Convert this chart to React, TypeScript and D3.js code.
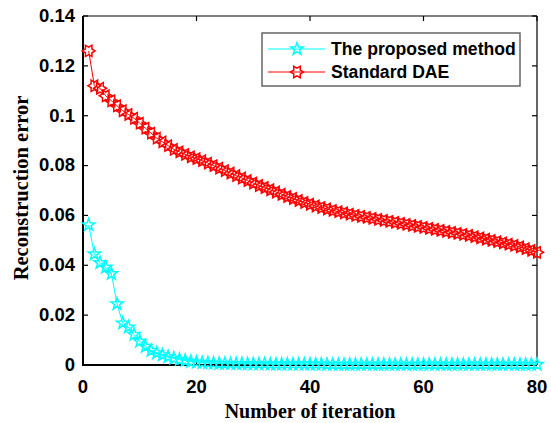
import React, { useRef, useEffect } from 'react'
import * as d3 from 'd3'

// iteration numbers (x) and the two error curves
const iterations = d3.range(1, 81)
const proposed = [
  0.0562, 0.0445, 0.041, 0.0392, 0.0366, 0.0245, 0.0168, 0.0152, 0.0122, 0.0095,
  0.0074, 0.0058, 0.0048, 0.004, 0.0033, 0.0027, 0.0022, 0.0018, 0.0014, 0.0011,
  0.0009, 0.0008, 0.0007, 0.0006, 0.0006, 0.0005, 0.0005, 0.0005, 0.0004, 0.0004,
  0.0004, 0.0004, 0.0003, 0.0003, 0.0003, 0.0003, 0.0003, 0.0003, 0.0003, 0.0003,
  0.0003, 0.0003, 0.0002, 0.0002, 0.0002, 0.0002, 0.0002, 0.0002, 0.0002, 0.0002,
  0.0002, 0.0002, 0.0002, 0.0002, 0.0002, 0.0002, 0.0002, 0.0002, 0.0002, 0.0002,
  0.0002, 0.0002, 0.0002, 0.0002, 0.0002, 0.0002, 0.0002, 0.0002, 0.0002, 0.0002,
  0.0002, 0.0002, 0.0002, 0.0002, 0.0002, 0.0002, 0.0002, 0.0002, 0.0002, 0.0002,
]
const standard = [
  0.126, 0.112, 0.111, 0.108, 0.106, 0.104, 0.102, 0.1005, 0.099, 0.097,
  0.095, 0.093, 0.091, 0.0895, 0.088, 0.0865, 0.0855, 0.0845, 0.0835, 0.0828,
  0.082, 0.081, 0.08, 0.079, 0.078, 0.077, 0.076, 0.075, 0.074, 0.073,
  0.072, 0.0712, 0.0703, 0.0694, 0.0685, 0.0676, 0.0668, 0.066, 0.0652, 0.0645,
  0.0638, 0.0632, 0.0626, 0.062, 0.0615, 0.061, 0.0605, 0.06, 0.0596, 0.0592,
  0.0588, 0.0584, 0.058, 0.0576, 0.0572, 0.0568, 0.0564, 0.056, 0.0556, 0.0552,
  0.0548, 0.0544, 0.054, 0.0536, 0.0532, 0.0528, 0.0524, 0.052, 0.0515, 0.051,
  0.0505, 0.05, 0.0495, 0.049, 0.0485, 0.048, 0.0474, 0.0467, 0.046, 0.0452,
]
const xTicks = [0, 20, 40, 60, 80]
const yTicks = [0, 0.02, 0.04, 0.06, 0.08, 0.1, 0.12, 0.14]
const seriesNames = ['The proposed method', 'Standard DAE']

// star path: n points, outer radius r, inner ratio k, start angle a0
const star = (n: number, r: number, k: number, a0: number) => {
  const pts: [number, number][] = []
  for (let i = 0; i < 2 * n; i++) {
    const a = a0 + (i * Math.PI) / n
    const rr = i % 2 === 0 ? r : r * k
    pts.push([rr * Math.cos(a), rr * Math.sin(a)])
  }
  return 'M' + pts.map((p) => p[0].toFixed(2) + ',' + p[1].toFixed(2)).join('L') + 'Z'
}
const pentagram = star(5, 6.5, 0.4, -Math.PI / 2)
const hexagram = star(6, 6.5, 0.577, 0)

function App() {
  const svgRef = useRef<SVGSVGElement>(null)
  const width = 551
  const height = 423
  const m = { left: 83, right: 537, top: 16, bottom: 365 }

  useEffect(() => {
    const svg = d3.select(svgRef.current)
    svg.selectAll('*').remove()

    const x = d3.scaleLinear().domain([0, 80]).range([m.left, m.right])
    const y = d3.scaleLinear().domain([0, 0.14]).range([m.bottom, m.top])
    const sans = 'Liberation Sans, Arial, sans-serif'
    const serif = 'Liberation Serif, Times New Roman, serif'

    const axes = svg.append('g')
    // box
    axes.append('line').attr('x1', m.left).attr('x2', m.right).attr('y1', m.top).attr('y2', m.top)
      .attr('stroke', '#000').attr('stroke-width', 1.2)
    axes.append('line').attr('x1', m.right).attr('x2', m.right).attr('y1', m.top).attr('y2', m.bottom)
      .attr('stroke', '#000').attr('stroke-width', 1.2)

    xTicks.forEach((t) => {
      axes.append('line').attr('x1', x(t)).attr('x2', x(t)).attr('y1', m.bottom).attr('y2', m.bottom - 5)
        .attr('stroke', '#000').attr('stroke-width', 1.2)
      axes.append('line').attr('x1', x(t)).attr('x2', x(t)).attr('y1', m.top).attr('y2', m.top + 5)
        .attr('stroke', '#000').attr('stroke-width', 1.2)
      axes.append('text').attr('x', x(t)).attr('y', 393).attr('text-anchor', 'middle')
        .attr('font-family', sans).attr('font-weight', 'bold')
        .attr('font-size', 18.5).text(d3.format('d')(t))
    })
    yTicks.forEach((t) => {
      axes.append('line').attr('x1', m.left).attr('x2', m.left + 5).attr('y1', y(t)).attr('y2', y(t))
        .attr('stroke', '#000').attr('stroke-width', 1.2)
      axes.append('line').attr('x1', m.right).attr('x2', m.right - 5).attr('y1', y(t)).attr('y2', y(t))
        .attr('stroke', '#000').attr('stroke-width', 1.2)
      axes.append('text').attr('x', 75).attr('y', y(t) + 1).attr('text-anchor', 'end')
        .attr('dominant-baseline', 'middle')
        .attr('font-family', sans).attr('font-weight', 'bold')
        .attr('font-size', 18.5).text(t === 0 ? '0' : String(t))
    })
    axes.append('line').attr('x1', m.left).attr('x2', m.left).attr('y1', m.top).attr('y2', m.bottom + 1)
      .attr('stroke', '#000').attr('stroke-width', 2)
    axes.append('line').attr('x1', m.left - 1).attr('x2', m.right).attr('y1', m.bottom).attr('y2', m.bottom)
      .attr('stroke', '#000').attr('stroke-width', 2)

    // axis titles
    svg.append('text').attr('x', 310).attr('y', 418).attr('text-anchor', 'middle')
      .attr('font-family', serif).attr('font-weight', 'bold')
      .attr('font-size', 20).text('Number of iteration')
    svg.append('text')
      .attr('transform', `translate(28,188) rotate(-90)`)
      .attr('text-anchor', 'middle')
      .attr('font-family', serif).attr('font-weight', 'bold')
      .attr('font-size', 20.5).text('Reconstruction error')

    const line = d3.line<number>().x((d, i) => x(iterations[i])).y((d) => y(d))

    const series = [
      { values: proposed, color: '#00ffff', marker: pentagram },
      { values: standard, color: '#ff0000', marker: hexagram },
    ]

    series.forEach((s) => {
      const g = svg.append('g')
      g.append('path').attr('d', line(s.values)).attr('fill', 'none')
        .attr('stroke', s.color).attr('stroke-width', 1)
      g.selectAll('path.mk').data(s.values).join('path').attr('class', 'mk')
        .attr('d', s.marker)
        .attr('transform', (d, i) => `translate(${x(iterations[i])},${y(d)})`)
        .attr('fill', 'none').attr('stroke', s.color).attr('stroke-width', 1.5)
    })

    // legend
    const lg = svg.append('g')
    lg.append('rect').attr('x', 262).attr('y', 33).attr('width', 258).attr('height', 53)
      .attr('fill', '#fff').attr('stroke', '#666').attr('stroke-width', 1.5)
    series.forEach((s, i) => {
      const cy = 49 + i * 23
      lg.append('line').attr('x1', 268).attr('x2', 325).attr('y1', cy).attr('y2', cy)
        .attr('stroke', s.color).attr('stroke-width', 1)
      lg.append('path').attr('d', s.marker).attr('transform', `translate(297,${cy})`)
        .attr('fill', 'none').attr('stroke', s.color).attr('stroke-width', 1.5)
      lg.append('text').attr('x', 331).attr('y', cy + 1).attr('dominant-baseline', 'middle')
        .attr('font-family', sans).attr('font-weight', 'bold')
        .attr('font-size', 17.6).text(seriesNames[i])
    })
  }, [])

  return (
    <svg ref={svgRef} width={width} height={height}
      style={{ position: 'absolute', left: 0, top: 0, background: '#fff' }} />
  )
}

export default App
